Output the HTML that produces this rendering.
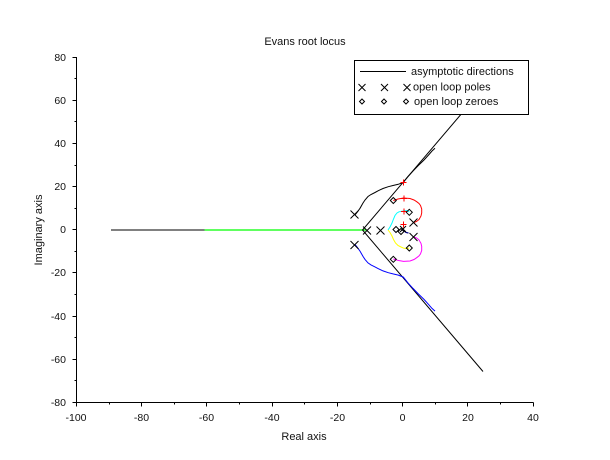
<!DOCTYPE html>
<html><head><meta charset="utf-8"><style>
html,body{margin:0;padding:0;background:#fff;}
svg{display:block;font-family:"Liberation Sans","DejaVu Sans",sans-serif;}
</style></head><body>
<svg width="610" height="460" viewBox="0 0 610 460" xmlns="http://www.w3.org/2000/svg">
<rect width="610" height="460" fill="#fff"/>
<text x="305" y="45" font-size="11" text-anchor="middle" fill="#111">Evans root locus</text>
<text x="304" y="440" font-size="11" text-anchor="middle" fill="#111">Real axis</text>
<text x="0" y="0" font-size="11" text-anchor="middle" fill="#111" transform="translate(42,230) rotate(-90)">Imaginary axis</text>

<g stroke="#000" stroke-width="1" fill="none" shape-rendering="crispEdges">
<line x1="76.5" y1="57" x2="76.5" y2="402.5"/>
<line x1="76" y1="402.5" x2="533.5" y2="402.5"/>
<path d="M76.5 402.5v4M141.5 402.5v4M206.5 402.5v4M272.5 402.5v4M337.5 402.5v4M402.5 402.5v4M467.5 402.5v4M533.5 402.5v4"/>
<path d="M109.5 402.5v2M174.5 402.5v2M239.5 402.5v2M304.5 402.5v2M370.5 402.5v2M435.5 402.5v2M500.5 402.5v2"/>
<path d="M76.5 57.5h-4M76.5 100.5h-4M76.5 143.5h-4M76.5 186.5h-4M76.5 229.5h-4M76.5 272.5h-4M76.5 316.5h-4M76.5 359.5h-4M76.5 402.5h-4"/>
<path d="M76.5 78.5h-2M76.5 121.5h-2M76.5 165.5h-2M76.5 208.5h-2M76.5 251.5h-2M76.5 294.5h-2M76.5 337.5h-2M76.5 380.5h-2"/>
</g>
<g font-size="10.5" text-anchor="end" fill="#111">
<text x="66" y="61">80</text>
<text x="66" y="104">60</text>
<text x="66" y="147">40</text>
<text x="66" y="190">20</text>
<text x="66" y="233">0</text>
<text x="66" y="276">-20</text>
<text x="66" y="320">-40</text>
<text x="66" y="363">-60</text>
<text x="66" y="406">-80</text>
</g>
<g font-size="10.5" text-anchor="middle" fill="#111">
<text x="76" y="421">-100</text>
<text x="141.5" y="421">-80</text>
<text x="206.5" y="421">-60</text>
<text x="272" y="421">-40</text>
<text x="337.5" y="421">-20</text>
<text x="402.5" y="421">0</text>
<text x="468" y="421">20</text>
<text x="533" y="421">40</text>
</g>

<line x1="111" y1="230" x2="204.5" y2="230" stroke="#000" stroke-width="1"/>
<line x1="204.5" y1="230" x2="366" y2="230" stroke="#00ff00" stroke-width="1.3"/>

<polyline points="483,88.5 362.5,230 483,371.5" fill="none" stroke="#000" stroke-width="1"/>

<polyline fill="none" stroke="#000" stroke-width="1" points="355,215 357,212.5 360,208.3 363,203 365,200 368,196.5 371,194.5 375,192.5 378.3,190.7 383,188.5 388.3,186.7 393,185.5 398.3,184.3 403.3,182.3 408,176.5 413,171 418.3,165.5 424,160 429,154.5 432,151 435,148.3"/>
<polyline fill="none" stroke="#0000ff" stroke-width="1" points="355,244.4 357,246.9 360,251.1 363,256.4 365,259.4 368,262.9 371,264.9 375,266.9 378.3,268.7 383,270.9 388.3,272.7 393,273.9 398.3,275.1 403.3,277.1 408,282.9 413,288.4 418.3,293.9 424,299.4 429,304.9 432,308.4 435,311.1"/>

<polyline fill="none" stroke="#ff0000" stroke-width="1" points="393.3,200.5 398,199 403.5,198 410,198.5 414,200 416.7,201.7 419,203.5 420.5,205.5 421.7,209 421.7,213 421,216 419,219.5 416.5,221.5 414,222.5"/>
<polyline fill="none" stroke="#ff00ff" stroke-width="1" points="393.3,259 398,260.4 403.5,261.4 410,261 414,259.5 416.7,257.7 419,255.9 420.5,253.9 421.7,250.4 421.7,246.4 421,243.4 419,239.9 416.5,237.9 414,237"/>
<polyline fill="none" stroke="#00ffff" stroke-width="1" points="388,230 390,227 392,223 393.5,219 395,215.5 397,213 399,211.8 403.5,211 407,210.5 409.3,212"/>
<polyline fill="none" stroke="#ffff00" stroke-width="1" points="388,230 390,232.5 392,236 393.5,239.5 395.5,243 398,245.5 401,247 404,248.3 407,248.5 409.3,248"/>
<polyline fill="none" stroke="#000080" stroke-width="1.2" points="401.5,229.5 404,231 406,232.5 408.5,233"/>

<g stroke="#ff0000" stroke-width="1" shape-rendering="crispEdges">
<path d="M400.5 182.5h6M403.5 179.5v6"/>
<path d="M401 198.5h6M404 195.5v6"/>
<path d="M401 211.5h6M404 208.5v6"/>
<path d="M400.5 224.5h6M403.5 221.5v6"/>
</g>

<g stroke="#000" stroke-width="1" fill="none">
<path d="M350.5 210.5l8 8M358.5 210.5l-8 8"/>
<path d="M350.5 241l8 8M358.5 241l-8 8"/>
<path d="M363 226.5l8 8M371 226.5l-8 8"/>
<path d="M376.5 226.5l8 8M384.5 226.5l-8 8"/>
<path d="M409.5 218.5l8 8M417.5 218.5l-8 8"/>
<path d="M409.5 233l8 8M417.5 233l-8 8"/>
<path d="M400 226l6 6M406 226l-6 6"/>
</g>
<g stroke="#000" stroke-width="1" fill="none">
<path d="M393.3 197.5l3 3l-3 3l-3 -3z"/>
<path d="M409.3 209.3l3 3l-3 3l-3 -3z"/>
<path d="M409.3 245l3 3l-3 3l-3 -3z"/>
<path d="M393.3 256.3l3 3l-3 3l-3 -3z"/>
<path d="M396 226.5l3 3l-3 3l-3 -3z"/>
<path d="M401 228.5l3 3l-3 3l-3 -3z"/>
</g>

<rect x="354.5" y="60.5" width="174" height="54" fill="#fff" stroke="#000" stroke-width="1" shape-rendering="crispEdges"/>
<line x1="360" y1="71.5" x2="406" y2="71.5" stroke="#000" stroke-width="1" shape-rendering="crispEdges"/>
<text x="411" y="75" font-size="11" fill="#111">asymptotic directions</text>
<g stroke="#000" stroke-width="1" fill="none">
<path d="M358.5 84l7 7M365.5 84l-7 7"/>
<path d="M381 84l7 7M388 84l-7 7"/>
<path d="M403.5 84l7 7M410.5 84l-7 7"/>
<path d="M362 99l2.5 2.5l-2.5 2.5l-2.5 -2.5z"/>
<path d="M384 99l2.5 2.5l-2.5 2.5l-2.5 -2.5z"/>
<path d="M406 99l2.5 2.5l-2.5 2.5l-2.5 -2.5z"/>
</g>
<text x="413" y="90.5" font-size="11" fill="#111">open loop poles</text>
<text x="414" y="105" font-size="11" fill="#111">open loop zeroes</text>
</svg>
</body></html>
